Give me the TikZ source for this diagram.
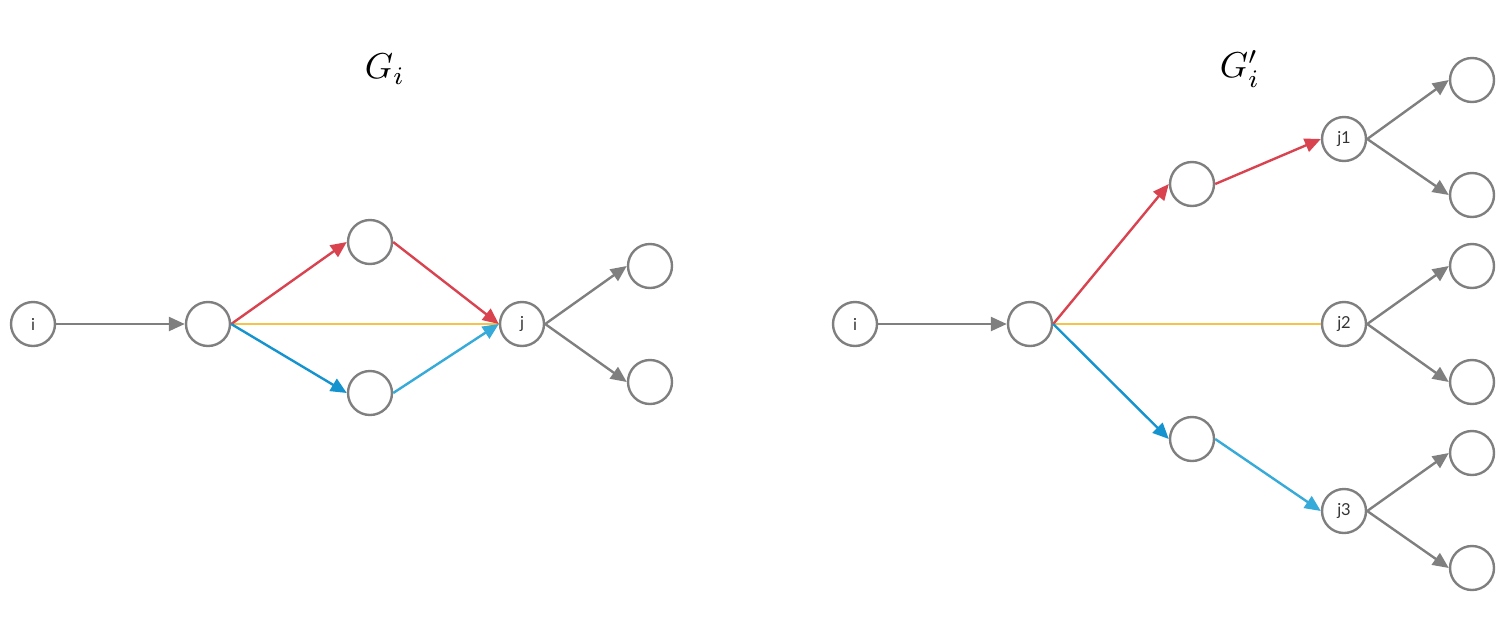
\documentclass[tikz,border=0pt]{standalone}
\usepackage{graphicx}
\usepackage{fontspec}
\setsansfont{Lato}
\usetikzlibrary{arrows.meta}
\definecolor{gr}{HTML}{7F7F7F}
\definecolor{rd}{HTML}{D9434F}
\definecolor{yl}{HTML}{F6C24A}
\definecolor{bd}{HTML}{1493CF}
\definecolor{bl}{HTML}{36AAD8}
\begin{document}
\begin{tikzpicture}[x=1pt,y=-1pt,
  nd/.style={circle,draw=gr,line width=2.4pt,minimum size=44pt,inner sep=0pt,font=\sffamily\fontsize{16.5}{16.5}\selectfont,text=black!80},
  ar/.style={line width=2.4pt,-{Triangle[length=16pt,width=14pt]}},
  ttl/.style={inner sep=0pt}]
\useasboundingbox (0,0) rectangle (1509,627);
% left graph
\node[ttl] (t1) at (385,69) {\scalebox{3.6}{$G_i$}};
\node[nd] (li) at (33,324) {i};
\node[nd] (la) at (208,324) {};
\node[nd] (lu) at (370,242) {};
\node[nd] (ld) at (370,393) {};
\node[nd] (lj) at (522,324) {j};
\node[nd] (lt) at (650,266) {};
\node[nd] (lb) at (650,382) {};
\draw[ar,gr] (li.east) -- (la.west);
\draw[line width=2.4pt,yl] (la.east) -- (lj.west);
\draw[ar,rd] (la.east) -- (lu.west);
\draw[ar,rd] (lu.east) -- (lj.west);
\draw[ar,bd] (la.east) -- (ld.west);
\draw[ar,bl] (ld.east) -- (lj.west);
\draw[ar,gr] (lj.east) -- (lt.west);
\draw[ar,gr] (lj.east) -- (lb.west);
% right graph
\node[ttl] (t2) at (1240,69) {\scalebox{3.6}{$G_i'$}};
\node[nd] (ri) at (855,324) {i};
\node[nd] (ra) at (1030,324) {};
\node[nd] (ru) at (1192,184) {};
\node[nd] (rd) at (1192,439) {};
\node[nd] (rj1) at (1344,139) {j1};
\node[nd] (rj2) at (1344,324) {j2};
\node[nd] (rj3) at (1344,511) {j3};
\node[nd] (r1) at (1472,80) {};
\node[nd] (r2) at (1472,195) {};
\node[nd] (r3) at (1472,266) {};
\node[nd] (r4) at (1472,382) {};
\node[nd] (r5) at (1472,453) {};
\node[nd] (r6) at (1472,568) {};
\draw[ar,gr] (ri.east) -- (ra.west);
\draw[line width=2.4pt,yl] (ra.east) -- (rj2.west);
\draw[ar,rd] (ra.east) -- (ru.west);
\draw[ar,rd] (ru.east) -- (rj1.west);
\draw[ar,bd] (ra.east) -- (rd.west);
\draw[ar,bl] (rd.east) -- (rj3.west);
\draw[ar,gr] (rj1.east) -- (r1.west);
\draw[ar,gr] (rj1.east) -- (r2.west);
\draw[ar,gr] (rj2.east) -- (r3.west);
\draw[ar,gr] (rj2.east) -- (r4.west);
\draw[ar,gr] (rj3.east) -- (r5.west);
\draw[ar,gr] (rj3.east) -- (r6.west);
\end{tikzpicture}
\end{document}
